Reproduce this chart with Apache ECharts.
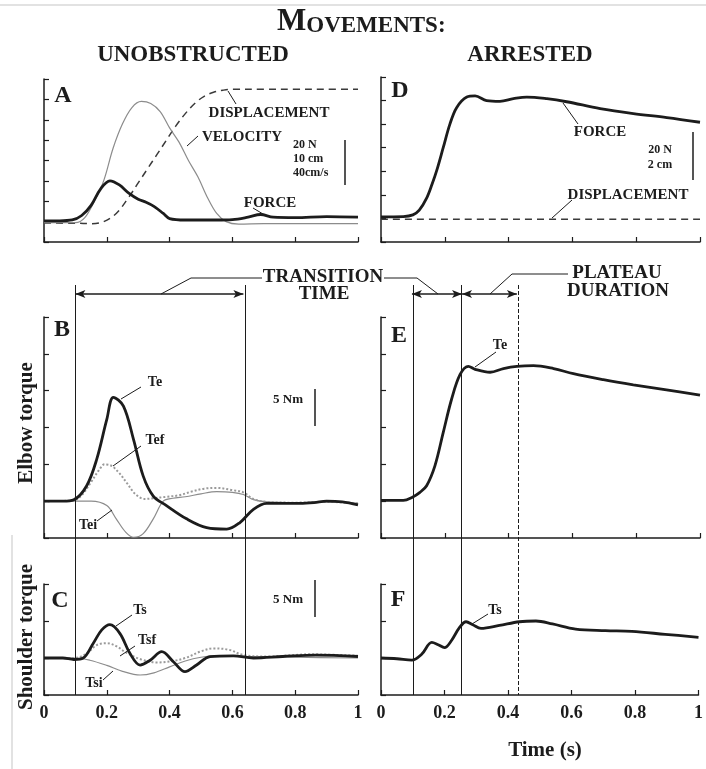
<!DOCTYPE html>
<html>
<head>
<meta charset="utf-8">
<script src="https://cdn.jsdelivr.net/npm/echarts@6/dist/echarts.min.js"></script>
<style>
  html, body { margin: 0; padding: 0; background: #fff; }
  #chart { width: 706px; height: 769px; }
</style>
</head>
<body>
<div id="chart"></div>
<script>
// ---------- DATA ----------
// Panel A (unobstructed movement): arbitrary trace units (1 unit = one minor tick)
const forceA_t = [0, 0.05, 0.09, 0.12, 0.15, 0.18, 0.21, 0.24, 0.27, 0.30, 0.325, 0.35, 0.38, 0.40, 0.45, 0.5, 0.55, 0.6, 0.65, 0.69, 0.73, 0.8, 0.9, 1.0];
const forceA   = [1.04, 1.04, 1.08, 1.3, 1.8, 2.6, 3.0, 2.8, 2.4, 2.1, 1.95, 1.75, 1.4, 1.15, 1.08, 1.08, 1.08, 1.1, 1.22, 1.35, 1.22, 1.2, 1.25, 1.22];
const velocityA_t = [0, 0.1, 0.13, 0.16, 0.19, 0.22, 0.25, 0.28, 0.31, 0.34, 0.37, 0.40, 0.43, 0.46, 0.49, 0.52, 0.55, 0.58, 0.62, 0.7, 0.8, 0.9, 1.0];
const velocityA   = [0.95, 0.95, 1.2, 2.0, 3.0, 4.6, 5.8, 6.6, 6.9, 6.8, 6.4, 5.6, 4.9, 4.0, 3.2, 2.2, 1.4, 1.0, 0.88, 0.9, 0.9, 0.9, 0.9];
const displacementA_t = [0, 0.1, 0.15, 0.19, 0.23, 0.27, 0.30, 0.33, 0.36, 0.39, 0.42, 0.45, 0.48, 0.51, 0.54, 0.57, 0.6, 0.7, 0.8, 0.9, 1.0];
const displacementA   = [0.93, 0.92, 0.9, 1.0, 1.4, 2.2, 2.9, 3.6, 4.3, 5.0, 5.7, 6.3, 6.8, 7.15, 7.35, 7.45, 7.5, 7.5, 7.5, 7.5, 7.5];

// Panel D (arrested movement)
const forceD_t = [0, 0.07, 0.1, 0.12, 0.143, 0.16, 0.175, 0.195, 0.216, 0.237, 0.269, 0.295, 0.331, 0.373, 0.415, 0.457, 0.52, 0.582, 0.687, 0.791, 0.896, 1.0];
const forceD   = [1.07, 1.08, 1.15, 1.35, 1.86, 2.45, 3.05, 4.0, 5.0, 5.7, 6.15, 6.2, 6.0, 5.97, 6.08, 6.15, 6.08, 5.95, 5.66, 5.45, 5.28, 5.08];
const displacementD_t = [0, 1.0];
const displacementD   = [0.96, 0.96];

// Panel B: elbow torque components (Nm)
const Te_t  = [0, 0.06, 0.095, 0.136, 0.168, 0.2, 0.221, 0.253, 0.285, 0.316, 0.348, 0.39, 0.454, 0.518, 0.582, 0.624, 0.667, 0.709, 0.76, 0.815, 0.86, 0.9, 0.95, 1.0];
const Te    = [0, 0, 0.2, 2.1, 5.7, 11.1, 14.1, 12.9, 8.4, 3.4, 0.7, -0.6, -2.4, -3.6, -3.8, -2.9, -1.1, -0.3, -0.3, -0.3, -0.2, 0, -0.1, -0.5];
const Tef_t = [0, 0.095, 0.12, 0.15, 0.175, 0.193, 0.215, 0.24, 0.265, 0.29, 0.32, 0.35, 0.39, 0.43, 0.47, 0.51, 0.55, 0.6, 0.635, 0.667, 0.71, 0.8, 0.9, 1.0];
const Tef   = [0, 0.1, 0.8, 2.6, 4.2, 5.0, 4.8, 3.8, 2.4, 1.0, 0.3, 0.4, 0.6, 0.8, 1.3, 1.7, 1.8, 1.5, 1.2, 0.3, -0.1, -0.2, -0.1, -0.3];
const Tei_t = [0, 0.15, 0.2, 0.23, 0.26, 0.285, 0.316, 0.348, 0.38, 0.41, 0.45, 0.5, 0.55, 0.6, 0.635, 0.667, 0.71, 0.8, 0.9, 1.0];
const Tei   = [0, 0, -0.6, -2.4, -4.2, -4.9, -4.4, -2.4, 0, 0.4, 0.6, 1.0, 1.3, 1.2, 0.9, 0.2, -0.1, -0.2, -0.1, -0.3];

// Panel C: shoulder torque components (Nm)
const Ts_t  = [0, 0.06, 0.095, 0.125, 0.157, 0.184, 0.21, 0.242, 0.274, 0.306, 0.338, 0.375, 0.412, 0.449, 0.486, 0.529, 0.603, 0.667, 0.76, 0.866, 1.0];
const Ts    = [0, 0, -0.2, 0, 2.0, 3.8, 4.5, 3.3, 0.6, -0.95, -0.3, 0.85, -0.5, -1.85, -0.95, 0.2, 0.3, 0, 0.2, 0.4, 0.2];
const Tsf_t = [0, 0.095, 0.136, 0.168, 0.2, 0.23, 0.263, 0.31, 0.36, 0.41, 0.45, 0.5, 0.54, 0.59, 0.635, 0.71, 0.85, 1.0];
const Tsf   = [0, 0, 0.6, 1.75, 2.0, 1.6, 0.7, -0.2, -0.6, -0.4, 0, 0.9, 1.3, 1.1, 0.4, 0.2, 0.5, 0.3];
const Tsi_t = [0, 0.1, 0.146, 0.2, 0.25, 0.306, 0.35, 0.4, 0.45, 0.5, 0.55, 0.65, 0.8, 1.0];
const Tsi   = [0, 0, -0.3, -1.0, -1.8, -2.3, -2.0, -1.2, -0.4, 0.1, 0.3, 0.2, 0.1, 0];

// Panel E: elbow torque, arrested (Nm)
const TeE_t = [0, 0.07, 0.097, 0.122, 0.143, 0.169, 0.195, 0.221, 0.248, 0.274, 0.295, 0.342, 0.384, 0.426, 0.478, 0.541, 0.603, 0.697, 0.791, 0.895, 1.0];
const TeE   = [0.1, 0.1, 0.5, 1.2, 2.1, 4.8, 9.3, 13.8, 17.2, 18.3, 17.9, 17.5, 18.0, 18.3, 18.4, 18.0, 17.3, 16.5, 15.8, 15.1, 14.4];

// Panel F: shoulder torque, arrested (Nm)
const TsF_t = [0, 0.05, 0.097, 0.128, 0.16, 0.18, 0.2, 0.221, 0.247, 0.268, 0.289, 0.315, 0.373, 0.436, 0.488, 0.54, 0.613, 0.707, 0.79, 0.895, 1.0];
const TsF   = [0, -0.1, -0.3, 0.5, 2.1, 1.8, 1.4, 2.3, 4.1, 4.9, 4.5, 4.0, 4.4, 4.9, 5.0, 4.6, 3.9, 3.7, 3.6, 3.2, 2.8];

// Event times (s)
const transitionUnobstructed = [0.1, 0.635];
const transitionArrested = [0.097, 0.254];
const plateauEnd = 0.426;

// Tick labels
const timeTicks = [0, 0.2, 0.4, 0.6, 0.8, 1];

// ---------- CHART ----------
const FONT = 'Liberation Serif';
const INK = '#1c1c1c';
const zip = (t, v) => t.map((x, i) => [x, v[i]]);

const chart = echarts.init(document.getElementById('chart'), null, { renderer: 'canvas' });

const grids = [
  { left: 44,  top: 79,  width: 314, height: 163 }, // 0 A
  { left: 381, top: 77,  width: 319, height: 165 }, // 1 D
  { left: 44,  top: 317, width: 314, height: 221 }, // 2 B
  { left: 381, top: 317, width: 319, height: 221 }, // 3 E
  { left: 44,  top: 584, width: 314, height: 111 }, // 4 C
  { left: 381, top: 584, width: 319, height: 111 }, // 5 F
  { left: 44,  top: 285, width: 314, height: 410 }, // 6 overlay left
  { left: 381, top: 285, width: 319, height: 410 }  // 7 overlay right
];

function xAx(g, labels) {
  return {
    type: 'value', gridIndex: g, min: 0, max: 1, interval: 0.2,
    axisLine: { show: true, onZero: false, lineStyle: { color: INK, width: 1.5 } },
    axisTick: { show: true, inside: true, length: 5, lineStyle: { color: INK, width: 1.2 } },
    axisLabel: {
      show: labels, color: INK, fontFamily: FONT, fontWeight: 'bold', fontSize: 18, margin: 9,
      showMinLabel: true, showMaxLabel: true,
      formatter: v => { const hit = timeTicks.find(t => Math.abs(t - v) < 1e-6); return hit === undefined ? '' : String(hit); }
    },
    splitLine: { show: false }
  };
}
function yAx(g, min, max, interval) {
  return {
    type: 'value', gridIndex: g, min, max, interval, position: 'left',
    axisLine: { show: true, onZero: false, lineStyle: { color: INK, width: 1.5 } },
    axisTick: { show: true, inside: true, length: 5, lineStyle: { color: INK, width: 1.2 } },
    axisLabel: { show: false },
    splitLine: { show: false }
  };
}

const xAxis = [
  xAx(0, false), xAx(1, false), xAx(2, false), xAx(3, false), xAx(4, true), xAx(5, true),
  { type: 'value', gridIndex: 6, min: 0, max: 1, show: false },
  { type: 'value', gridIndex: 7, min: 0, max: 1, show: false }
];
const yAxis = [
  yAx(0, 0, 8, 1), yAx(1, 0, 7, 1), yAx(2, -5, 25, 5), yAx(3, -5, 25, 5), yAx(4, -5, 10, 5), yAx(5, -5, 10, 5),
  { type: 'value', gridIndex: 6, min: 0, max: 410, inverse: true, show: false },
  { type: 'value', gridIndex: 7, min: 0, max: 410, inverse: true, show: false }
];

const thick = { color: INK, width: 2.8 };
const thin = { color: '#8c8c8c', width: 1.2 };
const dotted = { color: '#9a9a9a', width: 2, type: 'dotted' };
const dashed = { color: '#3a3a3a', width: 1.5, type: [7, 5] };

function line(name, g, data, style, z) {
  return {
    name, type: 'line', xAxisIndex: g, yAxisIndex: g, data, smooth: 0.35,
    symbol: 'none', lineStyle: style, itemStyle: { color: style.color }, z: z || 2,
    silent: true, animation: false
  };
}

const BAR_Y = 9; // overlay units (px from overlay top)
const vline = (x, type) => ({ xAxis: x, lineStyle: { color: INK, width: 1, type: type || 'solid' } });
const hbar = (a, b) => [{ coord: [a, BAR_Y] }, { coord: [b, BAR_Y] }];

const series = [
  line('Displacement A', 0, zip(displacementA_t, displacementA), dashed, 2),
  line('Velocity A', 0, zip(velocityA_t, velocityA), thin, 2),
  line('Force A', 0, zip(forceA_t, forceA), thick, 3),
  line('Displacement D', 1, zip(displacementD_t, displacementD), dashed, 2),
  line('Force D', 1, zip(forceD_t, forceD), thick, 3),
  line('Tei', 2, zip(Tei_t, Tei), thin, 2),
  line('Tef', 2, zip(Tef_t, Tef), dotted, 2),
  line('Te', 2, zip(Te_t, Te), thick, 3),
  line('Te E', 3, zip(TeE_t, TeE), thick, 3),
  line('Tsi', 4, zip(Tsi_t, Tsi), thin, 2),
  line('Tsf', 4, zip(Tsf_t, Tsf), dotted, 2),
  line('Ts', 4, zip(Ts_t, Ts), thick, 3),
  line('Ts F', 5, zip(TsF_t, TsF), thick, 3),
  {
    type: 'line', xAxisIndex: 6, yAxisIndex: 6, data: [], silent: true, animation: false,
    markLine: {
      silent: true, animation: false, symbol: ['none', 'none'], label: { show: false },
      data: transitionUnobstructed.map(x => vline(x))
    }
  },
  {
    type: 'line', xAxisIndex: 6, yAxisIndex: 6, data: [], silent: true, animation: false,
    markLine: {
      silent: true, animation: false, symbol: ['arrow', 'arrow'], symbolSize: [6, 10],
      label: { show: false }, lineStyle: { color: INK, width: 1.6, type: 'solid' },
      data: [hbar(transitionUnobstructed[0], transitionUnobstructed[1])]
    }
  },
  {
    type: 'line', xAxisIndex: 7, yAxisIndex: 7, data: [], silent: true, animation: false,
    markLine: {
      silent: true, animation: false, symbol: ['none', 'none'], label: { show: false },
      data: [vline(transitionArrested[0]), vline(transitionArrested[1]), vline(plateauEnd, 'dashed')]
    }
  },
  {
    type: 'line', xAxisIndex: 7, yAxisIndex: 7, data: [], silent: true, animation: false,
    markLine: {
      silent: true, animation: false, symbol: ['arrow', 'arrow'], symbolSize: [6, 10],
      label: { show: false }, lineStyle: { color: INK, width: 1.6, type: 'solid' },
      data: [hbar(transitionArrested[0], transitionArrested[1]), hbar(transitionArrested[1], plateauEnd)]
    }
  }
];

// ---------- ANNOTATIONS ----------
function txt(text, x, y, size, opts) {
  opts = opts || {};
  return {
    type: 'text', x, y, rotation: opts.rotation || 0, silent: true, z: 10,
    style: {
      text, fill: INK, font: `bold ${size}px "${FONT}"`,
      textAlign: opts.align || 'center', textVerticalAlign: 'middle'
    }
  };
}
function seg(points, w, color) {
  return {
    type: 'polyline', silent: true, z: 10,
    shape: { points },
    style: { stroke: color || INK, lineWidth: w || 1, fill: null }
  };
}

const graphic = [
  // faint frame edges of the scanned figure
  seg([[0, 5], [706, 5]], 1.5, '#d9d9d9'),
  seg([[12, 535], [12, 769]], 1.5, '#d9d9d9'),

  {
    type: 'text', x: 277, y: 22, silent: true,
    style: {
      text: '{a|M}{b|OVEMENTS:}', fill: INK, textAlign: 'left', textVerticalAlign: 'middle',
      rich: {
        a: { font: `bold 31px "${FONT}"`, fill: INK, verticalAlign: 'bottom' },
        b: { font: `bold 23px "${FONT}"`, fill: INK, verticalAlign: 'bottom' }
      }
    }
  },
  txt('UNOBSTRUCTED', 193, 55, 23),
  txt('ARRESTED', 530, 55, 23),

  // panel letters
  txt('A', 63, 96, 24), txt('D', 400, 91, 24), txt('B', 62, 330, 24),
  txt('E', 399, 336, 24), txt('C', 60, 601, 24), txt('F', 398, 600, 24),

  // axis titles
  txt('Elbow torque', 27, 423, 21, { rotation: Math.PI / 2 }),
  txt('Shoulder torque', 27, 637, 21, { rotation: Math.PI / 2 }),
  txt('Time (s)', 545, 751, 21),

  // Panel A
  txt('DISPLACEMENT', 269, 113, 15),
  seg([[228, 91], [236, 104]]),
  txt('VELOCITY', 242, 137, 15),
  seg([[187, 146], [198, 136]]),
  txt('FORCE', 270, 203, 15),
  seg([[253, 208], [263, 214]]),
  txt('20 N', 293, 145, 12, { align: 'left' }),
  txt('10 cm', 293, 159, 12, { align: 'left' }),
  txt('40cm/s', 293, 173, 12, { align: 'left' }),
  seg([[345, 140], [345, 185]], 1.5),

  // Panel D
  txt('FORCE', 600, 132, 15),
  seg([[563, 103], [578, 124]]),
  txt('20 N', 660, 150, 12),
  txt('2 cm', 660, 165, 12),
  seg([[693, 132], [693, 180]], 1.5),
  txt('DISPLACEMENT', 628, 195, 15),
  seg([[572, 200], [552, 218]]),

  // transition / plateau labels
  txt('TRANSITION', 323, 277, 19),
  txt('TIME', 324, 294, 19),
  seg([[161, 294], [191, 278], [262, 278]]),
  seg([[384, 278], [417, 278], [438, 294]]),
  txt('PLATEAU', 617, 273, 19),
  txt('DURATION', 618, 291, 19),
  seg([[490, 294], [512, 274], [568, 274]]),

  // Panel B
  txt('Te', 155, 382, 14), seg([[141, 387], [121, 399]]),
  txt('Tef', 155, 440, 14), seg([[141, 446], [113, 466]]),
  txt('Tei', 88, 525, 14), seg([[97, 521], [112, 510]]),
  txt('5 Nm', 288, 400, 13), seg([[315, 389], [315, 426]], 1.5),

  // Panel C
  txt('Ts', 140, 610, 14), seg([[132, 615], [116, 626]]),
  txt('Tsf', 147, 640, 14), seg([[135, 646], [120, 656]]),
  txt('Tsi', 94, 683, 14), seg([[103, 680], [113, 671]]),
  txt('5 Nm', 288, 600, 13), seg([[315, 580], [315, 617]], 1.5),

  // Panel E / F
  txt('Te', 500, 345, 14), seg([[496, 352], [475, 367]]),
  txt('Ts', 495, 610, 14), seg([[488, 614], [472, 624]])
];

chart.setOption({
  animation: false,
  backgroundColor: '#ffffff',
  grid: grids,
  xAxis, yAxis, series, graphic
});
</script>
</body>
</html>
